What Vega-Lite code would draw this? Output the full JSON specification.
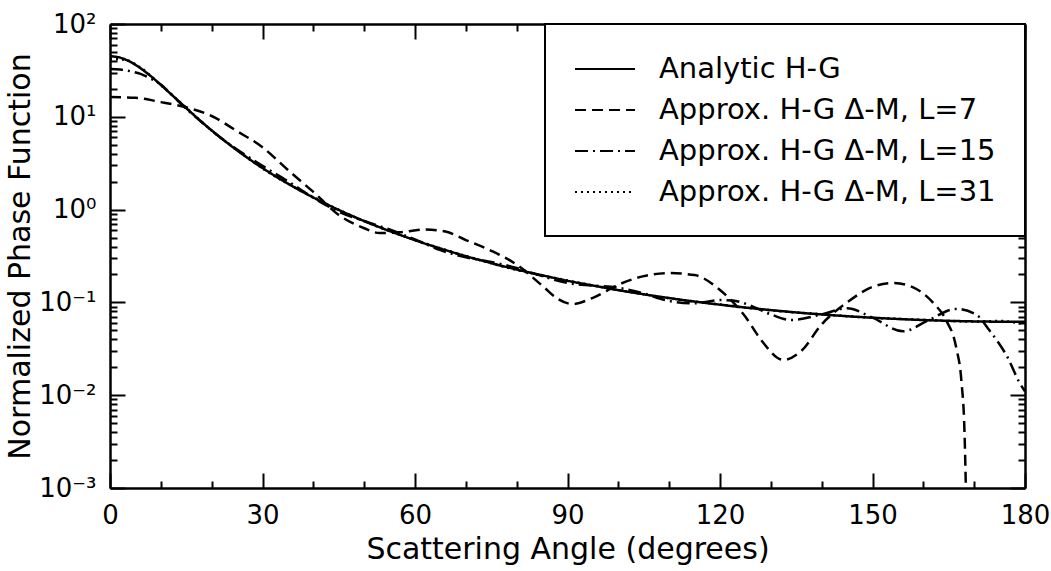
{
  "$schema": "https://vega.github.io/schema/vega-lite/v6.json",
  "width": 915,
  "height": 464,
  "autosize": {"type": "none"},
  "padding": {"left": 110, "top": 24, "right": 26, "bottom": 83},
  "background": "white",
  "config": {
    "view": {"stroke": null},
    "font": "DejaVu Sans",
    "legend": {"strokeWidth": 2},
    "axis": {
      "domainColor": "black", "domainWidth": 2.5, "tickColor": "black", "tickWidth": 2,
      "labelColor": "black", "titleColor": "black", "labelFont": "DejaVu Sans", "titleFont": "DejaVu Sans",
      "labelFontSize": 26, "titleFontSize": 30, "titleFontWeight": "normal", "grid": false
    }
  },
  "datasets": {
    "curves": [
    {"angle": 0, "value": 45.0, "series": "Analytic H-G"},
    {"angle": 2, "value": 43.4, "series": "Analytic H-G"},
    {"angle": 4, "value": 39.1, "series": "Analytic H-G"},
    {"angle": 6, "value": 33.4, "series": "Analytic H-G"},
    {"angle": 8, "value": 27.5, "series": "Analytic H-G"},
    {"angle": 10, "value": 22.07, "series": "Analytic H-G"},
    {"angle": 12, "value": 17.54, "series": "Analytic H-G"},
    {"angle": 15, "value": 12.39, "series": "Analytic H-G"},
    {"angle": 18, "value": 8.85, "series": "Analytic H-G"},
    {"angle": 20, "value": 7.14, "series": "Analytic H-G"},
    {"angle": 25, "value": 4.35, "series": "Analytic H-G"},
    {"angle": 30, "value": 2.806, "series": "Analytic H-G"},
    {"angle": 35, "value": 1.905, "series": "Analytic H-G"},
    {"angle": 40, "value": 1.35, "series": "Analytic H-G"},
    {"angle": 45, "value": 0.992, "series": "Analytic H-G"},
    {"angle": 50, "value": 0.753, "series": "Analytic H-G"},
    {"angle": 55, "value": 0.587, "series": "Analytic H-G"},
    {"angle": 60, "value": 0.468, "series": "Analytic H-G"},
    {"angle": 65, "value": 0.381, "series": "Analytic H-G"},
    {"angle": 70, "value": 0.315, "series": "Analytic H-G"},
    {"angle": 75, "value": 0.265, "series": "Analytic H-G"},
    {"angle": 80, "value": 0.226, "series": "Analytic H-G"},
    {"angle": 85, "value": 0.196, "series": "Analytic H-G"},
    {"angle": 90, "value": 0.171, "series": "Analytic H-G"},
    {"angle": 95, "value": 0.152, "series": "Analytic H-G"},
    {"angle": 100, "value": 0.1355, "series": "Analytic H-G"},
    {"angle": 105, "value": 0.1223, "series": "Analytic H-G"},
    {"angle": 110, "value": 0.1113, "series": "Analytic H-G"},
    {"angle": 115, "value": 0.1021, "series": "Analytic H-G"},
    {"angle": 120, "value": 0.0945, "series": "Analytic H-G"},
    {"angle": 125, "value": 0.088, "series": "Analytic H-G"},
    {"angle": 130, "value": 0.0826, "series": "Analytic H-G"},
    {"angle": 135, "value": 0.078, "series": "Analytic H-G"},
    {"angle": 140, "value": 0.0742, "series": "Analytic H-G"},
    {"angle": 145, "value": 0.071, "series": "Analytic H-G"},
    {"angle": 150, "value": 0.0684, "series": "Analytic H-G"},
    {"angle": 155, "value": 0.0663, "series": "Analytic H-G"},
    {"angle": 160, "value": 0.0646, "series": "Analytic H-G"},
    {"angle": 165, "value": 0.0633, "series": "Analytic H-G"},
    {"angle": 170, "value": 0.0624, "series": "Analytic H-G"},
    {"angle": 175, "value": 0.0619, "series": "Analytic H-G"},
    {"angle": 180, "value": 0.0617, "series": "Analytic H-G"},

    {"angle": 0, "value": 16.3, "series": "Approx. H-G Δ-M, L=7"},
    {"angle": 5, "value": 16.0, "series": "Approx. H-G Δ-M, L=7"},
    {"angle": 10, "value": 14.4, "series": "Approx. H-G Δ-M, L=7"},
    {"angle": 16, "value": 12.2, "series": "Approx. H-G Δ-M, L=7"},
    {"angle": 20, "value": 10.2, "series": "Approx. H-G Δ-M, L=7"},
    {"angle": 25, "value": 7.0, "series": "Approx. H-G Δ-M, L=7"},
    {"angle": 30, "value": 4.7, "series": "Approx. H-G Δ-M, L=7"},
    {"angle": 35, "value": 2.67, "series": "Approx. H-G Δ-M, L=7"},
    {"angle": 40, "value": 1.55, "series": "Approx. H-G Δ-M, L=7"},
    {"angle": 45, "value": 0.875, "series": "Approx. H-G Δ-M, L=7"},
    {"angle": 50, "value": 0.63, "series": "Approx. H-G Δ-M, L=7"},
    {"angle": 53, "value": 0.56, "series": "Approx. H-G Δ-M, L=7"},
    {"angle": 57, "value": 0.57, "series": "Approx. H-G Δ-M, L=7"},
    {"angle": 62, "value": 0.61, "series": "Approx. H-G Δ-M, L=7"},
    {"angle": 66, "value": 0.58, "series": "Approx. H-G Δ-M, L=7"},
    {"angle": 70, "value": 0.47, "series": "Approx. H-G Δ-M, L=7"},
    {"angle": 75, "value": 0.36, "series": "Approx. H-G Δ-M, L=7"},
    {"angle": 80, "value": 0.255, "series": "Approx. H-G Δ-M, L=7"},
    {"angle": 85, "value": 0.152, "series": "Approx. H-G Δ-M, L=7"},
    {"angle": 88, "value": 0.11, "series": "Approx. H-G Δ-M, L=7"},
    {"angle": 91, "value": 0.096, "series": "Approx. H-G Δ-M, L=7"},
    {"angle": 95, "value": 0.112, "series": "Approx. H-G Δ-M, L=7"},
    {"angle": 100, "value": 0.155, "series": "Approx. H-G Δ-M, L=7"},
    {"angle": 105, "value": 0.192, "series": "Approx. H-G Δ-M, L=7"},
    {"angle": 110, "value": 0.207, "series": "Approx. H-G Δ-M, L=7"},
    {"angle": 115, "value": 0.197, "series": "Approx. H-G Δ-M, L=7"},
    {"angle": 120, "value": 0.136, "series": "Approx. H-G Δ-M, L=7"},
    {"angle": 125, "value": 0.07, "series": "Approx. H-G Δ-M, L=7"},
    {"angle": 128, "value": 0.04, "series": "Approx. H-G Δ-M, L=7"},
    {"angle": 132.5, "value": 0.024, "series": "Approx. H-G Δ-M, L=7"},
    {"angle": 136, "value": 0.03, "series": "Approx. H-G Δ-M, L=7"},
    {"angle": 140, "value": 0.058, "series": "Approx. H-G Δ-M, L=7"},
    {"angle": 145, "value": 0.1, "series": "Approx. H-G Δ-M, L=7"},
    {"angle": 150, "value": 0.147, "series": "Approx. H-G Δ-M, L=7"},
    {"angle": 154, "value": 0.162, "series": "Approx. H-G Δ-M, L=7"},
    {"angle": 158, "value": 0.145, "series": "Approx. H-G Δ-M, L=7"},
    {"angle": 162, "value": 0.098, "series": "Approx. H-G Δ-M, L=7"},
    {"angle": 164.5, "value": 0.064, "series": "Approx. H-G Δ-M, L=7"},
    {"angle": 166.5, "value": 0.032, "series": "Approx. H-G Δ-M, L=7"},
    {"angle": 167.5, "value": 0.014, "series": "Approx. H-G Δ-M, L=7"},
    {"angle": 168.1, "value": 0.004, "series": "Approx. H-G Δ-M, L=7"},
    {"angle": 168.4, "value": 0.0008, "series": "Approx. H-G Δ-M, L=7"},
    {"angle": 168.6, "value": 0.0002, "series": "Approx. H-G Δ-M, L=7"},

    {"angle": 0, "value": 32.7, "series": "Approx. H-G Δ-M, L=15"},
    {"angle": 2, "value": 32.3, "series": "Approx. H-G Δ-M, L=15"},
    {"angle": 4, "value": 31.0, "series": "Approx. H-G Δ-M, L=15"},
    {"angle": 6, "value": 29.0, "series": "Approx. H-G Δ-M, L=15"},
    {"angle": 8, "value": 25.8, "series": "Approx. H-G Δ-M, L=15"},
    {"angle": 10, "value": 22.3, "series": "Approx. H-G Δ-M, L=15"},
    {"angle": 12, "value": 17.6, "series": "Approx. H-G Δ-M, L=15"},
    {"angle": 15, "value": 12.2, "series": "Approx. H-G Δ-M, L=15"},
    {"angle": 18, "value": 8.8, "series": "Approx. H-G Δ-M, L=15"},
    {"angle": 20, "value": 7.1, "series": "Approx. H-G Δ-M, L=15"},
    {"angle": 25, "value": 4.44, "series": "Approx. H-G Δ-M, L=15"},
    {"angle": 30, "value": 2.97, "series": "Approx. H-G Δ-M, L=15"},
    {"angle": 35, "value": 2.02, "series": "Approx. H-G Δ-M, L=15"},
    {"angle": 40, "value": 1.34, "series": "Approx. H-G Δ-M, L=15"},
    {"angle": 45, "value": 0.95, "series": "Approx. H-G Δ-M, L=15"},
    {"angle": 50, "value": 0.753, "series": "Approx. H-G Δ-M, L=15"},
    {"angle": 55, "value": 0.61, "series": "Approx. H-G Δ-M, L=15"},
    {"angle": 60, "value": 0.477, "series": "Approx. H-G Δ-M, L=15"},
    {"angle": 65, "value": 0.366, "series": "Approx. H-G Δ-M, L=15"},
    {"angle": 70, "value": 0.306, "series": "Approx. H-G Δ-M, L=15"},
    {"angle": 75, "value": 0.273, "series": "Approx. H-G Δ-M, L=15"},
    {"angle": 80, "value": 0.235, "series": "Approx. H-G Δ-M, L=15"},
    {"angle": 85, "value": 0.192, "series": "Approx. H-G Δ-M, L=15"},
    {"angle": 90, "value": 0.162, "series": "Approx. H-G Δ-M, L=15"},
    {"angle": 95, "value": 0.152, "series": "Approx. H-G Δ-M, L=15"},
    {"angle": 100, "value": 0.1436, "series": "Approx. H-G Δ-M, L=15"},
    {"angle": 105, "value": 0.1247, "series": "Approx. H-G Δ-M, L=15"},
    {"angle": 110, "value": 0.1035, "series": "Approx. H-G Δ-M, L=15"},
    {"angle": 115, "value": 0.098, "series": "Approx. H-G Δ-M, L=15"},
    {"angle": 120, "value": 0.106, "series": "Approx. H-G Δ-M, L=15"},
    {"angle": 122.5, "value": 0.105, "series": "Approx. H-G Δ-M, L=15"},
    {"angle": 125, "value": 0.097, "series": "Approx. H-G Δ-M, L=15"},
    {"angle": 130, "value": 0.0743, "series": "Approx. H-G Δ-M, L=15"},
    {"angle": 134, "value": 0.0647, "series": "Approx. H-G Δ-M, L=15"},
    {"angle": 140, "value": 0.0742, "series": "Approx. H-G Δ-M, L=15"},
    {"angle": 145, "value": 0.0866, "series": "Approx. H-G Δ-M, L=15"},
    {"angle": 150, "value": 0.0684, "series": "Approx. H-G Δ-M, L=15"},
    {"angle": 156, "value": 0.0488, "series": "Approx. H-G Δ-M, L=15"},
    {"angle": 161, "value": 0.0643, "series": "Approx. H-G Δ-M, L=15"},
    {"angle": 166.5, "value": 0.085, "series": "Approx. H-G Δ-M, L=15"},
    {"angle": 170.5, "value": 0.073, "series": "Approx. H-G Δ-M, L=15"},
    {"angle": 173, "value": 0.05, "series": "Approx. H-G Δ-M, L=15"},
    {"angle": 176.5, "value": 0.026, "series": "Approx. H-G Δ-M, L=15"},
    {"angle": 179, "value": 0.0134, "series": "Approx. H-G Δ-M, L=15"},
    {"angle": 180, "value": 0.011, "series": "Approx. H-G Δ-M, L=15"},

    {"angle": 0, "value": 42.0, "series": "Approx. H-G Δ-M, L=31"},
    {"angle": 3, "value": 41.0, "series": "Approx. H-G Δ-M, L=31"},
    {"angle": 6, "value": 33.8, "series": "Approx. H-G Δ-M, L=31"},
    {"angle": 10, "value": 22.0, "series": "Approx. H-G Δ-M, L=31"},
    {"angle": 15, "value": 12.5, "series": "Approx. H-G Δ-M, L=31"},
    {"angle": 20, "value": 7.1, "series": "Approx. H-G Δ-M, L=31"},
    {"angle": 25, "value": 4.38, "series": "Approx. H-G Δ-M, L=31"},
    {"angle": 30, "value": 2.78, "series": "Approx. H-G Δ-M, L=31"},
    {"angle": 40, "value": 1.36, "series": "Approx. H-G Δ-M, L=31"},
    {"angle": 50, "value": 0.75, "series": "Approx. H-G Δ-M, L=31"},
    {"angle": 60, "value": 0.47, "series": "Approx. H-G Δ-M, L=31"},
    {"angle": 70, "value": 0.316, "series": "Approx. H-G Δ-M, L=31"},
    {"angle": 80, "value": 0.224, "series": "Approx. H-G Δ-M, L=31"},
    {"angle": 90, "value": 0.172, "series": "Approx. H-G Δ-M, L=31"},
    {"angle": 100, "value": 0.136, "series": "Approx. H-G Δ-M, L=31"},
    {"angle": 110, "value": 0.111, "series": "Approx. H-G Δ-M, L=31"},
    {"angle": 120, "value": 0.095, "series": "Approx. H-G Δ-M, L=31"},
    {"angle": 130, "value": 0.082, "series": "Approx. H-G Δ-M, L=31"},
    {"angle": 140, "value": 0.0745, "series": "Approx. H-G Δ-M, L=31"},
    {"angle": 150, "value": 0.0682, "series": "Approx. H-G Δ-M, L=31"},
    {"angle": 160, "value": 0.0648, "series": "Approx. H-G Δ-M, L=31"},
    {"angle": 170, "value": 0.0622, "series": "Approx. H-G Δ-M, L=31"},
    {"angle": 175, "value": 0.063, "series": "Approx. H-G Δ-M, L=31"},
    {"angle": 180, "value": 0.058, "series": "Approx. H-G Δ-M, L=31"}
    ]
  },
  "data": {"name": "curves"},
  "resolve": {"axis": {"x": "independent", "y": "independent"}},
  "layer": [
    {
      "mark": {"type": "line", "color": "black", "strokeWidth": 2.5, "interpolate": "monotone", "clip": true},
      "encoding": {
        "x": {
          "field": "angle", "type": "quantitative",
          "scale": {"domain": [0, 180], "nice": false},
          "axis": {
            "orient": "bottom", "title": "Scattering Angle (degrees)",
            "values": [0, 30, 60, 90, 120, 150, 180],
            "tickSize": -15, "labelPadding": 29, "titlePadding": 6, "labelFlush": false
          }
        },
        "y": {
          "field": "value", "type": "quantitative",
          "scale": {"type": "log", "domain": [0.001, 100], "nice": false},
          "axis": {
            "orient": "left", "title": "Normalized Phase Function",
            "values": [0.001, 0.01, 0.1, 1, 10, 100],
            "labelExpr": "datum.value < 0.005 ? '10⁻³' : datum.value < 0.05 ? '10⁻²' : datum.value < 0.5 ? '10⁻¹' : datum.value < 5 ? '10⁰' : datum.value < 50 ? '10¹' : '10²'",
            "tickSize": -15, "labelPadding": 29, "titlePadding": 3, "labelFlush": false
          }
        },
        "strokeDash": {
          "field": "series", "type": "nominal",
          "scale": {
            "domain": ["Analytic H-G", "Approx. H-G Δ-M, L=7", "Approx. H-G Δ-M, L=15", "Approx. H-G Δ-M, L=31"],
            "range": [[1, 0], [11, 6], [13, 5, 2, 5], [2, 4]]
          },
          "legend": {
            "title": null, "orient": "top-right", "offset": 0,
            "strokeColor": "black", "fillColor": "white", "padding": 29,
            "labelFont": "DejaVu Sans", "labelFontSize": 29, "labelColor": "black", "labelLimit": 700,
            "symbolType": "M-2,0H2", "symbolSize": 900, "symbolStrokeWidth": 2, "symbolStrokeColor": "black",
            "symbolOffset": 15, "labelOffset": 38, "rowPadding": 10
          }
        }
      }
    },
    {
      "mark": {"type": "line", "color": "black", "strokeOpacity": 0},
      "encoding": {
        "x": {
          "field": "angle", "type": "quantitative",
          "axis": {
            "orient": "bottom", "title": null, "labels": false, "domain": false,
            "values": [10, 20, 40, 50, 70, 80, 100, 110, 130, 140, 160, 170], "tickSize": -7
          }
        },
        "y": {
          "field": "value", "type": "quantitative",
          "axis": {
            "orient": "left", "title": null, "labels": false, "domain": false,
            "values": [0.002,0.003,0.004,0.005,0.006,0.007,0.008,0.009,0.02,0.03,0.04,0.05,0.06,0.07,0.08,0.09,0.2,0.3,0.4,0.5,0.6,0.7,0.8,0.9,2,3,4,5,6,7,8,9,20,30,40,50,60,70,80,90],
            "tickSize": -7
          }
        },
        "detail": {"field": "series", "type": "nominal"}
      }
    },
    {
      "mark": {"type": "line", "color": "black", "strokeOpacity": 0},
      "encoding": {
        "x": {
          "field": "angle", "type": "quantitative",
          "axis": {"orient": "top", "title": null, "labels": false, "values": [0, 30, 60, 90, 120, 150, 180], "tickSize": -15}
        },
        "y": {
          "field": "value", "type": "quantitative",
          "axis": {"orient": "right", "title": null, "labels": false, "values": [0.001, 0.01, 0.1, 1, 10, 100], "tickSize": -15}
        },
        "detail": {"field": "series", "type": "nominal"}
      }
    },
    {
      "mark": {"type": "line", "color": "black", "strokeOpacity": 0},
      "encoding": {
        "x": {
          "field": "angle", "type": "quantitative",
          "axis": {
            "orient": "top", "title": null, "labels": false, "domain": false,
            "values": [10, 20, 40, 50, 70, 80, 100, 110, 130, 140, 160, 170], "tickSize": -7
          }
        },
        "y": {
          "field": "value", "type": "quantitative",
          "axis": {
            "orient": "right", "title": null, "labels": false, "domain": false,
            "values": [0.002,0.003,0.004,0.005,0.006,0.007,0.008,0.009,0.02,0.03,0.04,0.05,0.06,0.07,0.08,0.09,0.2,0.3,0.4,0.5,0.6,0.7,0.8,0.9,2,3,4,5,6,7,8,9,20,30,40,50,60,70,80,90],
            "tickSize": -7
          }
        },
        "detail": {"field": "series", "type": "nominal"}
      }
    }
  ]
}
